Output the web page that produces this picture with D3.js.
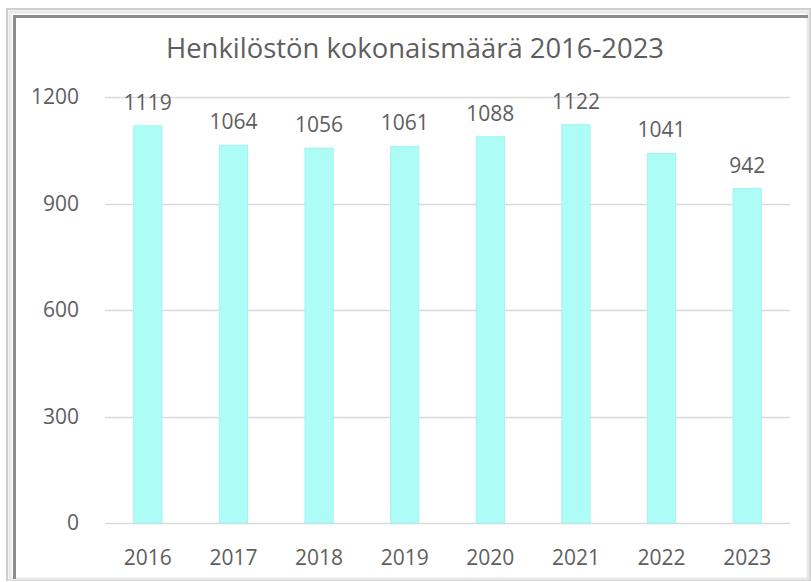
<!DOCTYPE html>
<html>
<head>
<meta charset="utf-8">
<script src="https://cdn.jsdelivr.net/npm/d3@7"></script>
<style>
  html, body { margin: 0; padding: 0; background: #fff; }
  svg { display: block; }
</style>
</head>
<body>
<div id="chart"></div>
<script>
// chart data
const years = ['2016', '2017', '2018', '2019', '2020', '2021', '2022', '2023'];
const staff = [1119, 1064, 1056, 1061, 1088, 1122, 1041, 942];
const yTicks = [0, 300, 600, 900, 1200];
const title = 'Henkilöstön kokonaismäärä 2016-2023';

const width = 811;
const height = 582;
const textColor = '#5e5e5e';
const font = '"Open Sans", sans-serif';

const svg = d3.select('#chart').append('svg')
    .attr('width', width)
    .attr('height', height);

// frame: light outer edge + darker inner edge (like a pasted screenshot)
svg.append('rect')
    .attr('x', 7).attr('y', 9)
    .attr('width', 803).attr('height', 571)
    .style('fill', 'none')
    .style('stroke', '#cfcfcf')
    .style('stroke-width', 2);
svg.append('rect')
    .attr('x', 10).attr('y', 12)
    .attr('width', 798).attr('height', 567)
    .style('fill', 'none')
    .style('stroke', '#e8e8e8')
    .style('stroke-width', 3);
svg.append('path')
    .attr('d', 'M14.5,579 V16.5 H808')
    .style('fill', 'none')
    .style('stroke', '#8c8c8c')
    .style('stroke-width', 3);

const x = d3.scaleBand()
    .domain(years)
    .range([105, 790])
    .paddingInner(0.67)
    .paddingOuter(0.335);

const y = d3.scaleLinear()
    .domain([0, 1200])
    .range([523, 97]);

// gridlines
svg.append('g')
    .selectAll('line')
    .data(yTicks)
    .enter().append('line')
    .attr('x1', 105)
    .attr('x2', 790)
    .attr('y1', d => Math.round(y(d)) + 0.5)
    .attr('y2', d => Math.round(y(d)) + 0.5)
    .style('stroke', '#d9d9d9')
    .style('stroke-width', 1.5);

// y tick labels
svg.append('g')
    .selectAll('text')
    .data(yTicks)
    .enter().append('text')
    .attr('x', 79)
    .attr('y', d => y(d))
    .attr('dy', '0.35em')
    .attr('text-anchor', 'end')
    .style('font-family', font)
    .style('font-size', '21px')
    .style('fill', textColor)
    .text(d => d);

// bars
svg.append('g')
    .selectAll('rect')
    .data(staff)
    .enter().append('rect')
    .attr('x', (d, i) => x(years[i]))
    .attr('y', d => y(d))
    .attr('width', x.bandwidth())
    .attr('height', d => y(0) - y(d))
    .style('fill', '#adfcf5')
    .style('stroke', '#a3f3f3')
    .style('stroke-width', 1);

// value labels
svg.append('g')
    .selectAll('text')
    .data(staff)
    .enter().append('text')
    .attr('x', (d, i) => x(years[i]) + x.bandwidth() / 2)
    .attr('y', d => y(d) - 16)
    .attr('text-anchor', 'middle')
    .style('font-family', font)
    .style('font-size', '21px')
    .style('fill', textColor)
    .text(d => d);

// x labels
svg.append('g')
    .selectAll('text')
    .data(years)
    .enter().append('text')
    .attr('x', d => x(d) + x.bandwidth() / 2)
    .attr('y', 565)
    .attr('text-anchor', 'middle')
    .style('font-family', font)
    .style('font-size', '21px')
    .style('fill', textColor)
    .text(d => d);

svg.append('text')
    .attr('x', 415)
    .attr('y', 58)
    .attr('text-anchor', 'middle')
    .attr('textLength', 498)
    .attr('lengthAdjust', 'spacingAndGlyphs')
    .style('font-family', font)
    .style('font-size', '27px')
    .style('fill', textColor)
    .text(title);
</script>
</body>
</html>
